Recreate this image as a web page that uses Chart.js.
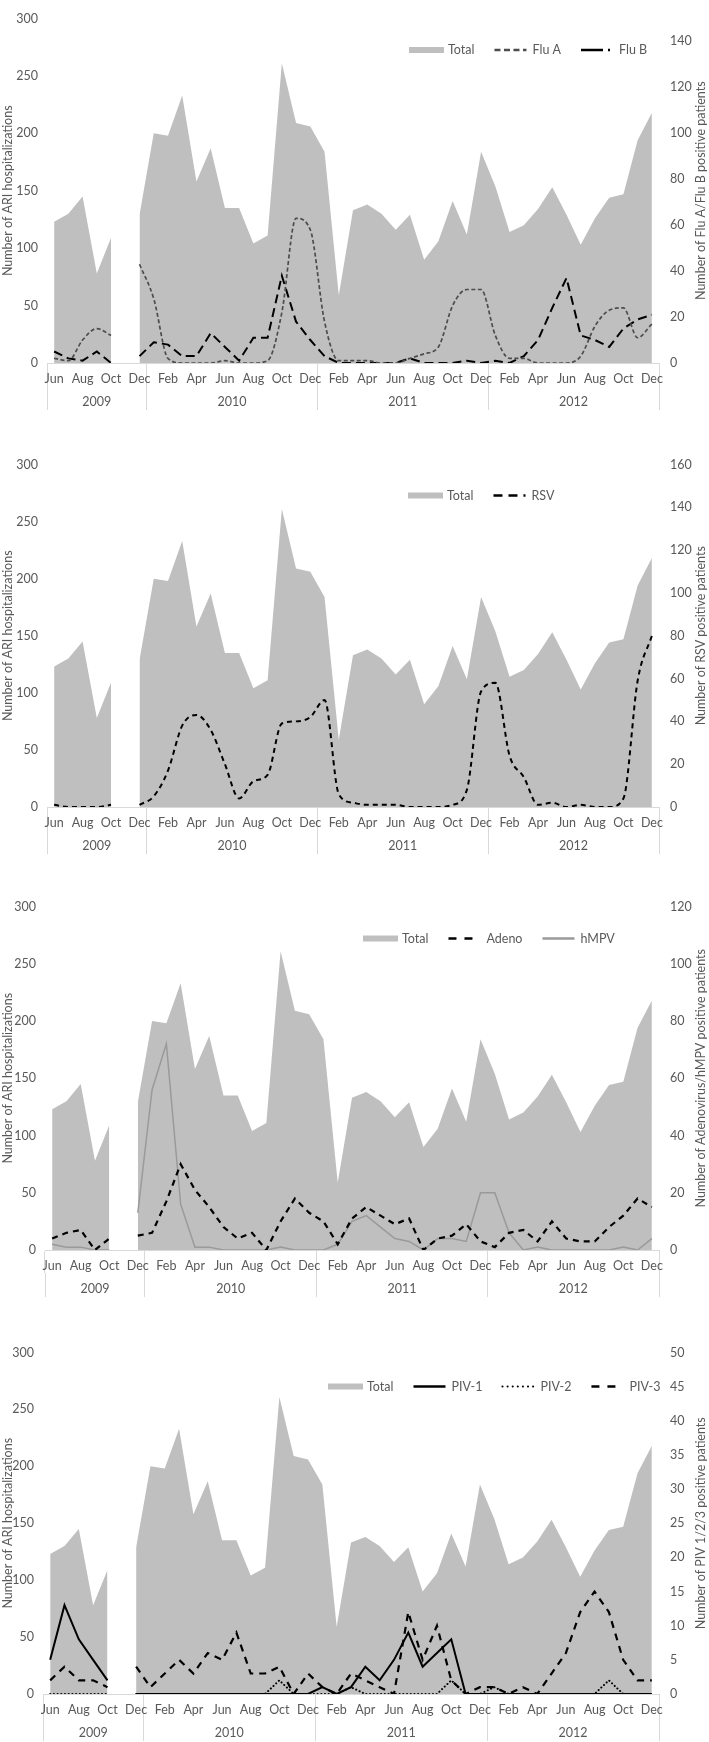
<!DOCTYPE html>
<html>
<head>
<meta charset="utf-8">
<script src="https://cdn.jsdelivr.net/npm/chart.js@4.4.1/dist/chart.umd.min.js"></script>
<style>
  body { margin: 0; background: #fff; }
  .panel { position: absolute; left: 0; width: 709px; }
</style>
</head>
<body>
<div class="panel" style="top:0px;height:410px"><canvas id="c1"></canvas></div>
<div class="panel" style="top:446px;height:408px"><canvas id="c2"></canvas></div>
<div class="panel" style="top:888px;height:409px"><canvas id="c3"></canvas></div>
<div class="panel" style="top:1334px;height:407px"><canvas id="c4"></canvas></div>
<script>
// categories: Jun 2009 .. Dec 2012 (Nov 2009 missing)
const monthLabels = [
  'Jun','Jul','Aug','Sep','Oct','Nov','Dec',
  'Jan','Feb','Mar','Apr','May','Jun','Jul','Aug','Sep','Oct','Nov','Dec',
  'Jan','Feb','Mar','Apr','May','Jun','Jul','Aug','Sep','Oct','Nov','Dec',
  'Jan','Feb','Mar','Apr','May','Jun','Jul','Aug','Sep','Oct','Nov','Dec'
];
const yearLabels = ['2009', '2010', '2011', '2012'];
const yearLengths = [7, 12, 12, 12];

// left axis: all ARI hospitalizations
const total = [123,130,145,78,109,null,129,
  200,198,233,158,187,135,135,104,111,261,209,206,
  184,59,133,138,130,116,129,90,106,141,112,184,
  154,114,120,134,153,129,103,126,144,147,194,218];

// right axes: positive patients
const fluA = [2,1,10,15,12,null,43,
  28,2,0,0,0,1,0,0,1,22,63,58,
  18,1,1,1,0,0,2,4,7,25,32,32,
  12,2,2,0,0,0,3,16,23,24,11,17];
const fluB = [5,2,1,5,0,null,3,
  9,8,3,3,13,7,1,11,11,38,18,10,
  3,0,0,0,0,0,2,0,0,0,1,0,
  1,0,3,10,24,37,12,10,7,15,19,21];
const rsv = [1,0,0,0,1,null,1,
  5,17,38,43,36,20,4,12,15,39,40,42,
  50,6,2,1,1,1,0,0,0,1,8,54,
  58,24,14,1,2,0,1,0,0,4,59,80];
const adeno = [4,6,7,0,4,null,5,
  6,17,30,21,15,8,4,6,0,10,18,13,
  10,2,11,15,12,9,11,0,4,5,9,3,
  1,6,7,3,10,4,3,3,8,12,18,15];
const hmpv = [2,1,1,0,0,null,13,
  56,72,16,1,1,0,0,0,0,1,0,0,
  0,2,10,12,8,4,3,0,4,4,3,20,
  20,6,0,1,0,0,0,0,0,1,0,4];
const piv1 = [5,13,8,5,2,null,0,
  0,0,0,0,0,0,0,0,0,0,0,0,
  1,0,1,4,2,5,9,4,6,8,0,0,
  0,0,0,0,0,0,0,0,0,0,0,0];
const piv2 = [0,0,0,0,0,null,0,
  0,0,0,0,0,0,0,0,0,2,0,0,
  0,0,1,0,0,0,0,0,0,2,0,0,
  1,0,0,0,0,0,0,0,2,0,0,0];
const piv3 = [2,4,2,2,1,null,4,
  1,3,5,3,6,5,9,3,3,4,0,3,
  1,0,3,2,1,0,12,5,10,2,0,1,
  1,0,1,0,3,6,12,15,12,5,2,2];

const TEXT = '#595959';
const FAMILY = 'Lato, "Open Sans", sans-serif';
const SIZE = 12.5;
const FONT = { family: FAMILY, size: SIZE };
const GRID = '#d9d9d9';

// year group boundaries / centres on the category index scale
const yearBounds = [-0.5];
yearLengths.forEach(n => yearBounds.push(yearBounds[yearBounds.length - 1] + n));
const yearCentres = yearLabels.map((_, i) => (yearBounds[i] + yearBounds[i + 1]) / 2);
const yearStarts = yearBounds.map(b => b + 0.5);

// legend drawn inside the plot area
const panelLegend = {
  id: 'panelLegend',
  afterDraw(chart, args, opts) {
    const ctx = chart.ctx;
    const y = chart.chartArea.top + opts.dy;
    let x = opts.x;
    ctx.save();
    ctx.font = SIZE + 'px ' + FAMILY;
    ctx.textBaseline = 'middle';
    chart.data.datasets.forEach(ds => {
      if (ds.fill) {
        ctx.fillStyle = ds.backgroundColor;
        ctx.fillRect(x, y - 3, 35, 6);
        x += 39;
      } else {
        ctx.strokeStyle = ds.borderColor;
        ctx.lineWidth = ds.legendWidth || ds.borderWidth;
        ctx.lineCap = ds.borderCapStyle || 'butt';
        ctx.setLineDash(ds.legendDash || ds.borderDash || []);
        ctx.beginPath();
        ctx.moveTo(x, y);
        ctx.lineTo(x + 32, y);
        ctx.stroke();
        ctx.setLineDash([]);
        x += 38;
      }
      ctx.fillStyle = TEXT;
      ctx.fillText(ds.label, x, y);
      x += ctx.measureText(ds.label).width + 20;
    });
    ctx.restore();
  }
};

// right axis title reads bottom-to-top
const rightTitle = {
  id: 'rightTitle',
  afterDraw(chart, args, opts) {
    const s = chart.scales.y1;
    const ctx = chart.ctx;
    ctx.save();
    ctx.translate(s.right - 8.5, (chart.chartArea.top + chart.chartArea.bottom) / 2);
    ctx.rotate(-Math.PI / 2);
    ctx.font = SIZE + 'px ' + FAMILY;
    ctx.fillStyle = TEXT;
    ctx.textAlign = 'center';
    ctx.textBaseline = 'middle';
    ctx.fillText(opts.text, 0, 0);
    ctx.restore();
  }
};

function totalSet() {
  return {
    label: 'Total', data: total, yAxisID: 'y', order: 99,
    fill: 'origin', backgroundColor: '#bfbfbf',
    borderWidth: 0, borderColor: 'rgba(0,0,0,0)', pointRadius: 0, spanGaps: false
  };
}

function lineSet(label, data, style) {
  return Object.assign({
    label: label, data: data, yAxisID: 'y1', fill: false,
    borderColor: '#000', borderWidth: 2, pointRadius: 0, tension: 0, spanGaps: false
  }, style);
}

function makeChart(id, lines, right, legend, leftWidth) {
  new Chart(document.getElementById(id), {
    type: 'line',
    data: { labels: monthLabels, datasets: [totalSet()].concat(lines) },
    plugins: [panelLegend, rightTitle],
    options: {
      responsive: true,
      maintainAspectRatio: false,
      animation: false,
      layout: { padding: 0 },
      plugins: {
        legend: { display: false },
        tooltip: { enabled: false },
        panelLegend: legend,
        rightTitle: { text: right.title }
      },
      scales: {
        x: {
          type: 'category', position: 'bottom', offset: true, weight: 0,
          afterFit: s => { s.height = 23; },
          grid: {
            display: true, drawOnChartArea: false, drawTicks: true, offset: true, tickLength: 23,
            color: c => (c.index === undefined || yearStarts.includes(c.index)) ? GRID : 'rgba(0,0,0,0)'
          },
          border: { display: true, color: GRID },
          ticks: {
            autoSkip: false, maxRotation: 0, padding: -14.5, color: TEXT, font: FONT,
            callback: (v, i) => i % 2 === 0 ? monthLabels[i] : ''
          }
        },
        xYear: {
          type: 'linear', position: 'bottom', weight: 1,
          min: yearBounds[0], max: yearBounds[yearBounds.length - 1],
          afterFit: s => { s.height = 24; },
          afterBuildTicks: s => {
            s.ticks = yearBounds.concat(yearCentres).sort((a, b) => a - b).map(v => ({ value: v }));
          },
          grid: {
            display: true, drawOnChartArea: false, drawTicks: true, tickLength: 24,
            color: c => (c.tick && yearBounds.includes(c.tick.value)) ? GRID : 'rgba(0,0,0,0)'
          },
          border: { display: false },
          ticks: {
            autoSkip: false, maxRotation: 0, padding: -15.5, color: TEXT, font: FONT,
            callback: v => {
              const k = yearCentres.indexOf(v);
              return k >= 0 ? yearLabels[k] : '';
            }
          }
        },
        y: {
          position: 'left', min: 0, max: 300,
          afterFit: s => { s.width = leftWidth; },
          grid: { display: false, drawTicks: false },
          border: { display: false },
          ticks: { stepSize: 50, padding: 9, color: TEXT, font: FONT },
          title: {
            display: true, text: 'Number of ARI hospitalizations',
            color: TEXT, font: FONT, padding: { top: 0.5, bottom: 0 }
          }
        },
        y1: {
          position: 'right', min: 0, max: right.max,
          afterFit: s => { s.width = 709 - 659; },
          grid: { display: false, drawTicks: false },
          border: { display: false },
          ticks: { stepSize: right.step, includeBounds: false, padding: 11, color: TEXT, font: FONT }
        }
      }
    }
  });
}

makeChart('c1', [
  lineSet('Flu A', fluA, { borderColor: '#4d4d4d', borderWidth: 1.7, borderDash: [4, 2.5], legendWidth: 2.5, legendDash: [6, 3.5], cubicInterpolationMode: 'monotone', tension: 0.3 }),
  lineSet('Flu B', fluB, { borderWidth: 2, borderDash: [9, 5], legendWidth: 2.5, legendDash: [22, 5, 2, 50] })
], { max: 150, step: 20, title: 'Number of Flu A/Flu B positive patients' }, { x: 409, dy: 31.5 }, 47);

makeChart('c2', [
  lineSet('RSV', rsv, { borderWidth: 2, borderDash: [5, 4], legendWidth: 2.5, legendDash: [9, 6], cubicInterpolationMode: 'monotone', tension: 0.3 })
], { max: 160, step: 20, title: 'Number of RSV positive patients' }, { x: 408, dy: 31 }, 47);

makeChart('c3', [
  lineSet('Adeno', adeno, { borderWidth: 2.2, borderDash: [6, 5], legendWidth: 2.5, legendDash: [8, 8] }),
  lineSet('hMPV', hmpv, { borderColor: '#9a9a9a', borderWidth: 1.5, legendWidth: 2.5 })
], { max: 120, step: 20, title: 'Number of Adenovirus/hMPV positive patients' }, { x: 363, dy: 32 }, 45);

makeChart('c4', [
  lineSet('PIV-1', piv1, { borderWidth: 2, legendWidth: 2.5 }),
  lineSet('PIV-2', piv2, { borderWidth: 2, borderDash: [0.1, 3.6], borderCapStyle: 'round', legendDash: [0.1, 5] }),
  lineSet('PIV-3', piv3, { borderWidth: 2.2, borderDash: [7, 6], legendWidth: 2.5, legendDash: [8, 8] })
], { max: 50, step: 5, title: 'Number of PIV 1/2/3 positive patients' }, { x: 328, dy: 34 }, 43);
</script>
</body>
</html>
